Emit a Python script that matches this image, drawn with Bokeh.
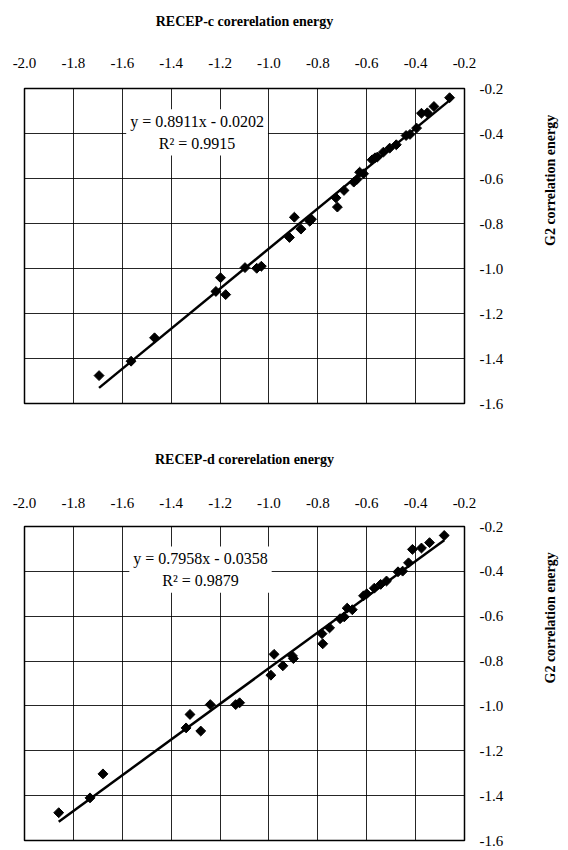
import math
from bokeh.plotting import figure
from bokeh.layouts import column
from bokeh.models import FixedTicker, PrintfTickFormatter, Label, Range1d
from bokeh.embed import file_html
from bokeh.resources import INLINE

# ---- data ----
tick_values = [-2.0, -1.8, -1.6, -1.4, -1.2, -1.0, -0.8, -0.6, -0.4, -0.2]
y_tick_values = [-1.6, -1.4, -1.2, -1.0, -0.8, -0.6, -0.4, -0.2]

title_c = "RECEP-c corerelation energy"
recep_c = [-1.695, -1.564, -1.468, -1.217, -1.198, -1.177, -1.098, -1.050, -1.031,
           -0.916, -0.896, -0.869, -0.833, -0.826, -0.726, -0.720, -0.693, -0.653,
           -0.640, -0.629, -0.613, -0.578, -0.566, -0.557, -0.532, -0.506, -0.479,
           -0.439, -0.423, -0.396, -0.376, -0.352, -0.325, -0.261]
g2_c = [-1.476, -1.412, -1.308, -1.102, -1.041, -1.116, -0.996, -0.999, -0.990,
        -0.862, -0.772, -0.825, -0.790, -0.781, -0.686, -0.727, -0.653, -0.616,
        -0.604, -0.572, -0.579, -0.517, -0.508, -0.505, -0.483, -0.465, -0.450,
        -0.409, -0.404, -0.376, -0.310, -0.308, -0.280, -0.241]
slope_c, intercept_c, r2_c = 0.8911, -0.0202, 0.9915

title_d = "RECEP-d corerelation energy"
recep_d = [-1.860, -1.732, -1.679, -1.339, -1.323, -1.279, -1.240, -1.136, -1.120,
           -0.992, -0.979, -0.943, -0.904, -0.900, -0.783, -0.780, -0.752, -0.709,
           -0.692, -0.680, -0.659, -0.613, -0.600, -0.569, -0.543, -0.519, -0.472,
           -0.453, -0.429, -0.413, -0.376, -0.343, -0.283]
g2_d = [-1.476, -1.410, -1.303, -1.098, -1.038, -1.112, -0.994, -0.994, -0.986,
        -0.863, -0.770, -0.821, -0.777, -0.789, -0.678, -0.723, -0.652, -0.611,
        -0.603, -0.564, -0.571, -0.509, -0.500, -0.475, -0.458, -0.443, -0.402,
        -0.399, -0.362, -0.302, -0.296, -0.272, -0.240]
slope_d, intercept_d, r2_d = 0.7958, -0.0358, 0.9879

y_axis_title = "G2 correlation energy"

SERIF = "Liberation Serif"


def make_panel(title, xs, ys, slope, intercept, r2, eq_pos, height, border_top,
               border_bottom, label_standoff, title_standoff):
    p = figure(width=568, height=height, output_backend="svg", toolbar_location=None,
               x_axis_location="above", y_axis_location="right",
               min_border_left=24, min_border_right=95,
               min_border_top=border_top, min_border_bottom=border_bottom,
               x_range=Range1d(-2.0, -0.2), y_range=Range1d(-1.6, -0.2))

    p.outline_line_color = "black"
    p.outline_line_width = 1.5
    p.outline_line_alpha = 1.0
    p.background_fill_color = "white"
    p.border_fill_color = "white"

    for ax in (p.xaxis[0], p.yaxis[0]):
        ax.axis_line_color = None
        ax.major_tick_line_color = None
        ax.minor_tick_line_color = None
        ax.major_label_text_font = SERIF
        ax.major_label_text_font_size = "15px"
        ax.major_label_text_color = "black"
        ax.formatter = PrintfTickFormatter(format="%.1f")
        ax.axis_label_text_font = SERIF
        ax.axis_label_text_font_size = "14px"
        ax.axis_label_text_font_style = "bold"
        ax.axis_label_text_color = "black"
    p.xaxis[0].ticker = FixedTicker(ticks=tick_values)
    p.yaxis[0].ticker = FixedTicker(ticks=y_tick_values)
    p.xaxis[0].major_label_standoff = label_standoff
    p.yaxis[0].major_label_standoff = 9

    # panel title drawn as the (top) x-axis label
    p.xaxis[0].axis_label = title
    p.xaxis[0].axis_label_standoff = title_standoff

    p.yaxis[0].axis_label = y_axis_title
    p.yaxis[0].axis_label_standoff = 44
    p.yaxis[0].axis_label_orientation = math.pi / 2

    p.xgrid.ticker = FixedTicker(ticks=tick_values)
    p.ygrid.ticker = FixedTicker(ticks=y_tick_values)
    for g in (p.xgrid[0], p.ygrid[0]):
        g.grid_line_color = "black"
        g.grid_line_alpha = 0.85
        g.grid_line_width = 1

    # trend line across data range
    x0, x1 = min(xs), max(xs)
    p.line([x0, x1], [slope * x0 + intercept, slope * x1 + intercept],
           line_color="black", line_width=2.5)

    p.scatter(xs, ys, marker="square", angle=math.pi / 4, size=7,
              fill_color="black", line_color="black")

    sign = "-" if intercept < 0 else "+"
    eq = f"y = {slope:.4f}x {sign} {abs(intercept):.4f}\nR\u00b2 = {r2:.4f}"
    lab = Label(x=eq_pos[0], y=eq_pos[1], text=eq, text_align="center",
                text_baseline="middle", text_font=SERIF, text_font_size="16px",
                text_color="black", text_line_height=1.25,
                background_fill_color="white", background_fill_alpha=1.0,
                padding=4)
    p.add_layout(lab)
    return p


p1 = make_panel(title_c, recep_c, g2_c, slope_c, intercept_c, r2_c,
                (-1.294, -0.395), 413, 88, 10, 15, 26)
p2 = make_panel(title_d, recep_d, g2_d, slope_d, intercept_d, r2_d,
                (-1.28, -0.392), 437, 113, 10, 13, 28)

layout = column(p1, p2)
open("out.html", "w").write(file_html(layout, INLINE))
